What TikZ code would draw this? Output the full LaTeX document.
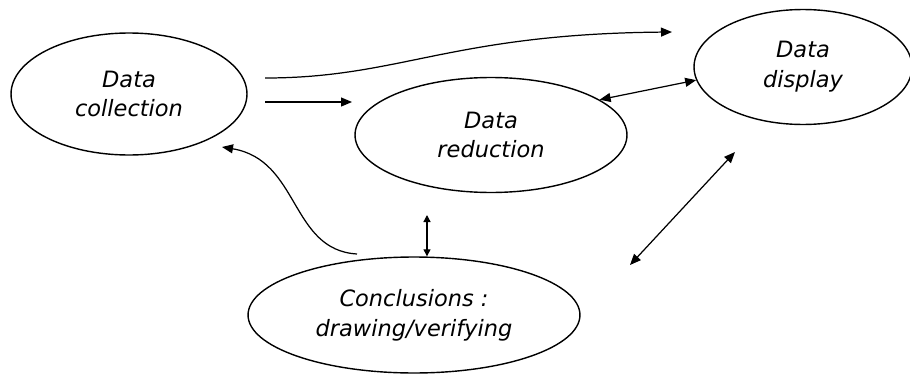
\documentclass[tikz,border=0pt]{standalone}
\usepackage{fontspec}
\setmainfont{DejaVu Sans}
\usetikzlibrary{shapes.geometric,arrows.meta}
\tikzset{
  stage/.style={ellipse, draw, line width=0.8pt, inner sep=0pt, align=center,
    font=\itshape\fontsize{12.8}{17}\selectfont},
  flow/.style={line width=0.7pt, -{Triangle[length=2.2mm,width=1.8mm]}},
  both/.style={line width=0.7pt, {Triangle[length=2.2mm,width=1.8mm]}-{Triangle[length=2.2mm,width=1.8mm]}},
  tiny/.style={line width=0.7pt, {Triangle[length=1.4mm,width=1.4mm]}-{Triangle[length=1.4mm,width=1.4mm]}}
}

\begin{document}
\begin{tikzpicture}[x=0.02cm, y=0.02cm]
			%%%%% START %%%%%
			\useasboundingbox (0, 0) rectangle (910, 373);
			
			\node[stage, minimum width=4.72cm, minimum height=2.44cm] (coll) at (129, 279) {Data\\collection};
			\node[stage, minimum width=5.44cm, minimum height=2.30cm] (red) at (491, 238) {Data\\reduction};
			\node[stage, minimum width=4.36cm, minimum height=2.30cm] (disp) at (803, 306) {Data\\display};
			\node[stage, minimum width=6.64cm, minimum height=2.32cm] (concl) at (414, 58) {Conclusions :\\drawing/verifying};
			
			% free ends
			\coordinate (collhi) at (265, 295);
			\coordinate (colllo) at (265, 271);
			\coordinate (disptop) at (672, 341);
			\coordinate (redin) at (352, 271);
			\coordinate (redbot) at (427, 158);
			\coordinate (conclup) at (357, 119);
			\coordinate (collin) at (222, 226);
			\coordinate (conclright) at (630, 108);
			\coordinate (displow) at (735, 221);
			
			\draw[flow] (collhi) .. controls (400, 295) and (450, 339) .. (disptop);
			\draw[flow] (colllo) -- (redin);
			\draw[both] (red.18) -- (disp.187);
			\draw[both] (conclright) -- (displow);
			\draw[tiny] (redbot) -- (redbot |- concl.north);
			\draw[flow] (conclup) .. controls (290, 123) and (300, 213) .. (collin);
			%%%%% END %%%%%
		\end{tikzpicture}
\end{document}
